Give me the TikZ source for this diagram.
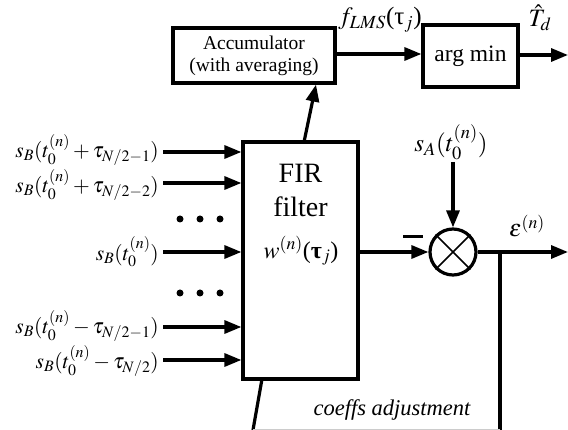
\documentclass[tikz,border=0pt]{standalone}
\usepackage{mathptmx}
\usepackage{fontspec}
\setmainfont{Liberation Serif}
\usetikzlibrary{arrows.meta}
\begin{document}
\begin{tikzpicture}[x=1pt,y=-1pt,
  blk/.style={draw,line width=3.2pt,inner sep=0pt,minimum width=#1},
  wire/.style={line width=3.2pt},
  arr/.style={line width=3.2pt,-{Triangle[length=17pt,width=13pt]}},
  inlab/.style={anchor=east,inner sep=0pt,font=\fontsize{21.5}{24}\selectfont},
  dotc/.style={fill,circle,inner sep=0pt,minimum size=7pt}]
\useasboundingbox (0,0) rectangle (568,430);
% blocks
\node[blk=162pt,minimum height=55pt,align=center,font=\fontsize{19.5}{22}\selectfont] (acc) at (254,55.5) {Accumulator\\(with averaging)};
\node[blk=95pt,minimum height=62pt,font=\fontsize{23.5}{26}\selectfont] (amin) at (470.5,56) {arg min};
\node[blk=115pt,minimum height=237pt] (fir) at (300.5,260.5) {};
\node[align=center,font=\fontsize{28}{34}\selectfont] (firtxt) at (300.5,190) {FIR\\filter};
\node[font=\fontsize{24}{26}\selectfont] (wlab) at (301,251) {$w^{(n)}$(\textbf{τ}$_{j}$)};
\node[draw,circle,line width=3.2pt,minimum size=46pt,inner sep=0pt] (sum) at (453,252) {};
\draw[line width=1.6pt] (sum.north west) -- (sum.south east) (sum.north east) -- (sum.south west);
% top path
\coordinate (firtop) at (304,142);
\draw[arr] (firtop) -- (acc.south east -| 316,83);
\draw[arr] (acc.east |- 0,54) -- (amin.west |- 0,54);
\coordinate (tdend) at (568,55);
\draw[arr] (amin.east |- 0,55) -- (tdend);
\node[font=\fontsize{25}{27}\selectfont,inner sep=0pt] (flms) at (380,20) {$f_{LMS}$(τ$_{j}$)};
\node[font=\fontsize{25}{27}\selectfont,inner sep=0pt] (td) at (540,18) {$\hat{T}_{d}$};
% inputs
\foreach \y/\ly/\n/\t in {152/150/i1/{$s_{B}(t_0^{(n)}+\tau_{N/2-1})$},183/185/i2/{$s_{B}(t_0^{(n)}+\tau_{N/2-2})$},252/252/i3/{$s_{B}(t_0^{(n)})$},327/326/i4/{$s_{B}(t_0^{(n)}-\tau_{N/2-1})$},360/361/i5/{$s_{B}(t_0^{(n)}-\tau_{N/2})$}}{
  \node[inlab] (\n) at (159,\ly) {\t};
  \draw[arr] (163,\y) -- (fir.west |- 0,\y);
}
\foreach \y/\r in {219/a,293/b}{
  \foreach \x/\c in {180/1,200/2,220/3}{
    \node[dotc] (d\r\c) at (\x,\y) {};
  }
}
% FIR -> sum
\draw[arr] (fir.east |- sum) -- (sum.west);
\node[inner sep=0pt] (minus) at (413,237) {\rule{20pt}{3pt}};
\node[font=\fontsize{25}{27}\selectfont,inner sep=0pt] (salab) at (451,142) {$s_{A}(t_0^{(n)})$};
\coordinate (sastart) at (453,162);
\draw[arr] (sastart) -- (sum.north);
\coordinate (epsend) at (568,252);
\draw[arr] (sum.east) -- (epsend);
\node[font=\fontsize{24}{26}\selectfont,inner sep=0pt] (eps) at (527,226) {$\varepsilon^{(n)}$};
% feedback
\coordinate (fbtop) at (500,252);
\coordinate (fbbot) at (500,430);
\coordinate (blbot) at (253,430);
\coordinate (firbot) at (262,379);
\draw[wire] (fbtop) -- (fbbot);
\draw[wire] (firbot) -- (blbot);
\draw[gray!40,line width=1pt] (blbot |- 0,429.5) -- (fbbot |- 0,429.5);
\node[font=\itshape\fontsize{22.5}{24}\selectfont,inner sep=0pt] (coef) at (392,410) {coeffs adjustment};
\end{tikzpicture}
\end{document}
